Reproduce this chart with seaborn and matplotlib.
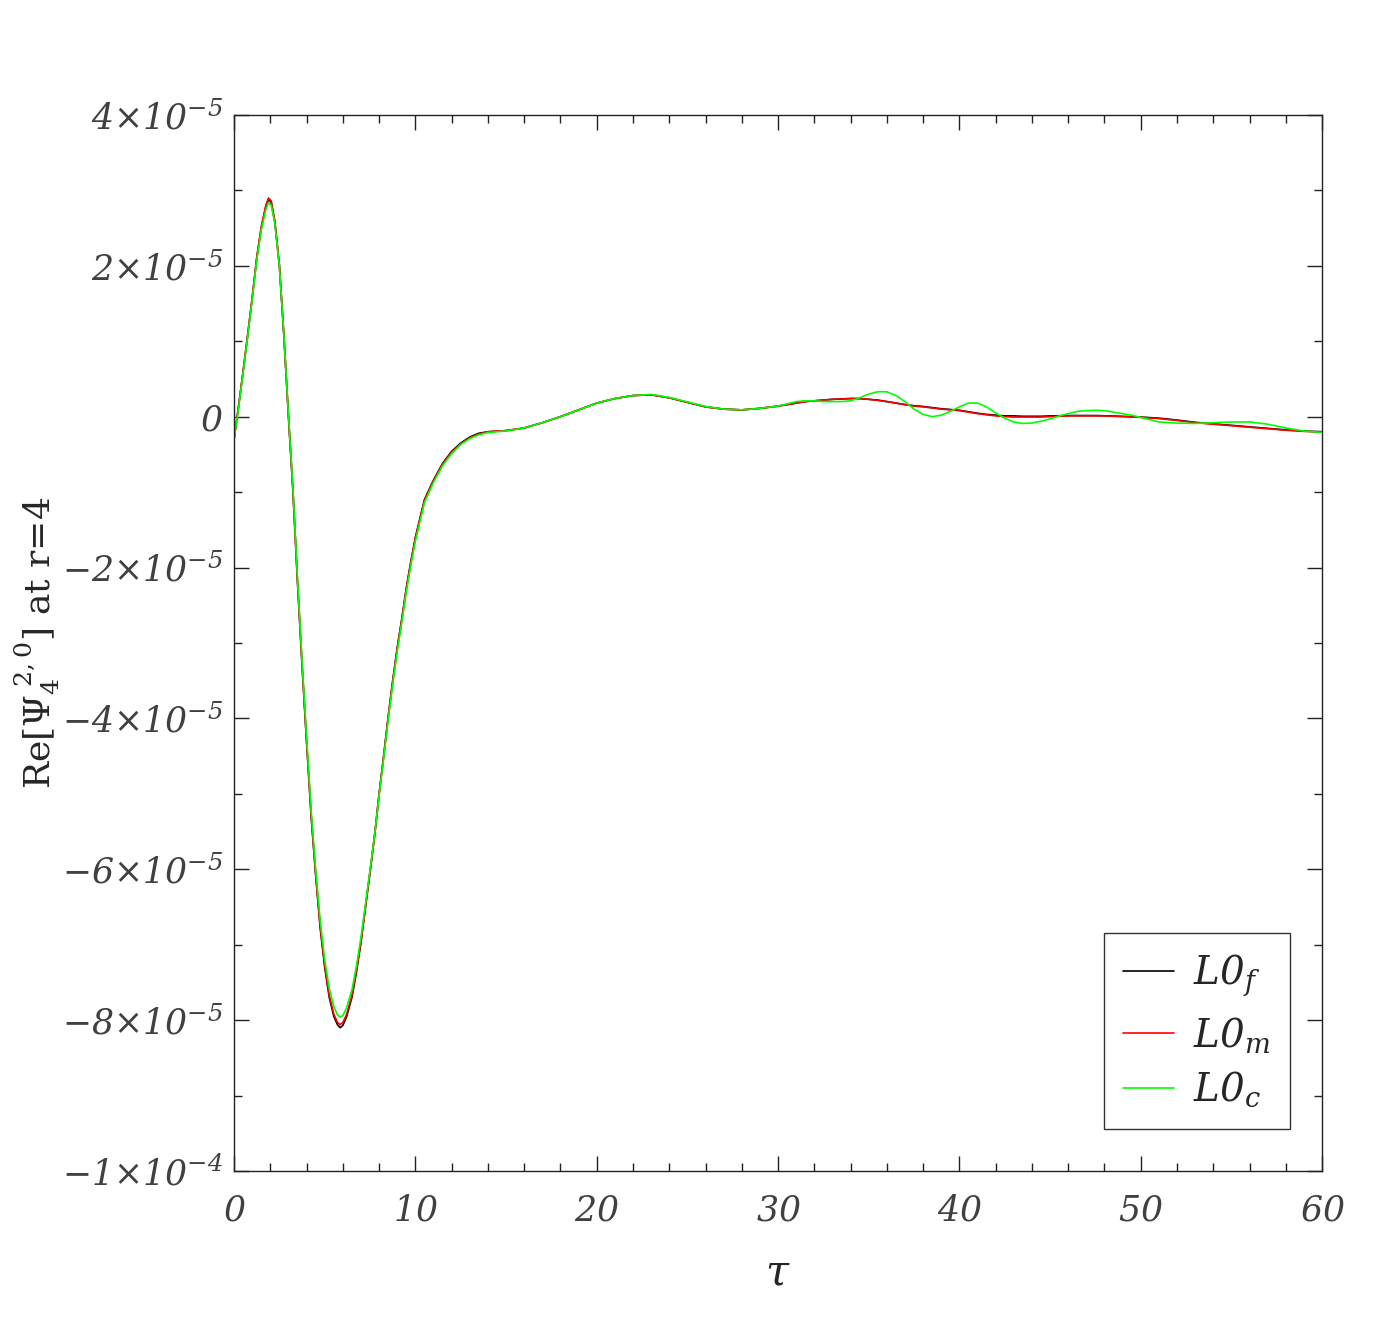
import matplotlib
matplotlib.use("Agg")
import matplotlib.pyplot as plt
from matplotlib.ticker import MultipleLocator, FuncFormatter
import seaborn as sns
import pandas as pd
import numpy as np

# tau grid (shared by all three runs)
tau = [0, 0.25, 0.5, 0.75, 1.0, 1.25, 1.5, 1.75, 1.9, 2.05, 2.25, 2.5, 2.75,
       3.0, 3.25, 3.5, 3.75, 4.0, 4.25, 4.5, 4.75, 5.0, 5.25, 5.5, 5.7, 5.85,
       6.0, 6.2, 6.5, 6.75, 7.0, 7.25, 7.5, 7.75, 8.0, 8.25, 8.5, 8.75, 9.0,
       9.25, 9.5, 9.75, 10.0, 10.5, 11.0, 11.5, 12.0, 12.5, 13.0, 13.5,
       14, 15, 16, 17, 18, 19, 20, 21, 22, 23, 24, 25, 26, 27, 28, 29,
       30, 30.5, 31, 31.5, 32, 32.5, 33, 33.5, 34, 34.5, 35, 35.5, 36, 36.5,
       37, 37.5, 38, 38.5, 39, 39.5, 40, 40.5, 41, 41.5, 42, 42.5, 43, 43.5,
       44, 44.5, 45, 45.5, 46, 46.5, 47, 47.5, 48, 48.5, 49, 49.5, 50,
       51, 52, 53, 54, 55, 56, 57, 58, 59, 60]

# values in units of 1e-5
L0f = [-0.30, 0.14, 0.60, 1.08, 1.57, 2.10, 2.50, 2.78, 2.88, 2.84, 2.58, 2.00, 1.06,
       0.00, -1.00, -2.20, -3.30, -4.32, -5.30, -6.08, -6.78, -7.30, -7.70, -7.95, -8.06, -8.10,
       -8.07, -7.96, -7.70, -7.36, -6.97, -6.50, -6.04, -5.56, -5.00, -4.50, -3.98, -3.50, -3.06,
       -2.68, -2.27, -1.92, -1.60, -1.10, -0.84, -0.62, -0.46, -0.35, -0.27, -0.22,
       -0.20, -0.185, -0.15, -0.08, 0.00, 0.09, 0.18, 0.24, 0.28, 0.29, 0.25, 0.19, 0.13, 0.10, 0.09, 0.11,
       0.14, 0.16, 0.18, 0.20, 0.21, 0.22, 0.23, 0.235, 0.24, 0.24, 0.23, 0.22, 0.20, 0.18,
       0.16, 0.145, 0.135, 0.12, 0.105, 0.095, 0.085, 0.065, 0.045, 0.03, 0.02, 0.01, 0.01, 0.005,
       0.005, 0.005, 0.01, 0.012, 0.015, 0.015, 0.015, 0.015, 0.012, 0.008, 0.004, 0.0, -0.005,
       -0.02, -0.045, -0.075, -0.095, -0.115, -0.135, -0.155, -0.175, -0.19, -0.20]

L0m = [-0.30, 0.14, 0.60, 1.08, 1.58, 2.11, 2.52, 2.80, 2.90, 2.86, 2.59, 2.01, 1.07,
       0.01, -0.99, -2.19, -3.28, -4.30, -5.27, -6.05, -6.75, -7.27, -7.67, -7.92, -8.03, -8.06,
       -8.03, -7.93, -7.67, -7.34, -6.95, -6.49, -6.03, -5.55, -5.00, -4.50, -3.98, -3.51, -3.07,
       -2.69, -2.28, -1.93, -1.61, -1.11, -0.85, -0.63, -0.47, -0.36, -0.28, -0.23,
       -0.20, -0.185, -0.15, -0.08, 0.00, 0.09, 0.18, 0.24, 0.28, 0.29, 0.25, 0.19, 0.13, 0.10, 0.09, 0.11,
       0.14, 0.16, 0.18, 0.20, 0.21, 0.22, 0.23, 0.235, 0.24, 0.24, 0.23, 0.215, 0.20, 0.18,
       0.16, 0.14, 0.13, 0.115, 0.10, 0.09, 0.08, 0.06, 0.04, 0.025, 0.01, 0.0, -0.005, -0.005,
       -0.005, -0.005, 0.0, 0.005, 0.01, 0.01, 0.01, 0.01, 0.01, 0.005, 0.0, -0.005, -0.01,
       -0.025, -0.05, -0.08, -0.10, -0.12, -0.14, -0.16, -0.18, -0.195, -0.205]

L0c = [-0.30, 0.12, 0.58, 1.06, 1.55, 2.07, 2.47, 2.74, 2.84, 2.80, 2.56, 1.99, 1.07,
       0.03, -0.96, -2.15, -3.24, -4.25, -5.22, -6.00, -6.68, -7.20, -7.58, -7.82, -7.93, -7.96,
       -7.94, -7.84, -7.60, -7.28, -6.90, -6.46, -6.01, -5.55, -5.02, -4.53, -4.02, -3.55, -3.11,
       -2.73, -2.32, -1.97, -1.65, -1.14, -0.87, -0.65, -0.49, -0.37, -0.29, -0.24,
       -0.21, -0.19, -0.15, -0.08, 0.00, 0.09, 0.18, 0.24, 0.28, 0.295, 0.255, 0.195, 0.135, 0.10, 0.09, 0.11,
       0.14, 0.17, 0.20, 0.21, 0.21, 0.20, 0.20, 0.20, 0.21, 0.25, 0.30, 0.33, 0.33, 0.28,
       0.20, 0.10, 0.03, 0.00, 0.02, 0.07, 0.13, 0.18, 0.18, 0.13, 0.05, -0.02, -0.07, -0.09,
       -0.085, -0.06, -0.03, 0.01, 0.04, 0.07, 0.08, 0.085, 0.08, 0.06, 0.04, 0.02, -0.01,
       -0.07, -0.085, -0.09, -0.08, -0.07, -0.07, -0.10, -0.15, -0.19, -0.21]

runs = ["L0f", "L0m", "L0c"]
run_labels = {"L0f": r"$L0_{f}$", "L0m": r"$L0_{m}$", "L0c": r"$L0_{c}$"}
run_colors = {"L0f": "#000000", "L0m": "#ff0000", "L0c": "#00ff00"}

frames = []
for name, vals in zip(runs, [L0f, L0m, L0c]):
    frames.append(pd.DataFrame({"tau": tau, "psi": np.array(vals) * 1e-5, "run": name}))
df = pd.concat(frames, ignore_index=True)

sns.set_style("ticks")
plt.rcParams["font.family"] = ["DejaVu Serif"]
# italic serif for every math text (tick labels, legend); axis labels override below
plt.rcParams["mathtext.fontset"] = "custom"
plt.rcParams["mathtext.rm"] = "DejaVu Serif:italic"
plt.rcParams["mathtext.it"] = "DejaVu Serif:italic"
plt.rcParams["mathtext.cal"] = "DejaVu Serif:italic"
plt.rcParams["mathtext.sf"] = "DejaVu Serif:italic"

fig = plt.figure(figsize=(13.94, 13.32), dpi=100)
ax = fig.add_axes([0.1679, 0.1209, 0.7805, 0.7928])

sns.lineplot(data=df, x="tau", y="psi", hue="run", hue_order=runs,
             palette=run_colors, linewidth=1.2, ax=ax, sort=False, estimator=None)

ax.set_xlim(0, 60)
ax.set_ylim(-1e-4, 4e-5)
ax.xaxis.set_major_locator(MultipleLocator(10))
ax.xaxis.set_minor_locator(MultipleLocator(2))
ax.yaxis.set_major_locator(MultipleLocator(2e-5))
ax.yaxis.set_minor_locator(MultipleLocator(1e-5))


def yfmt(v, pos):
    if abs(v) < 1e-12:
        return r"$0$"
    exp = int(np.floor(np.log10(abs(v)) + 1e-9))
    mant = int(round(v / 10 ** exp))
    return r"$%d{\times}10^{%d}$" % (mant, exp)


ax.yaxis.set_major_formatter(FuncFormatter(yfmt))
ax.xaxis.set_major_formatter(FuncFormatter(lambda v, p: r"$%d$" % round(v)))

ax.tick_params(which="both", direction="in", top=True, right=True, width=1.0, color="#222222")
ax.tick_params(which="major", length=11)
ax.tick_params(which="minor", length=6)
ax.tick_params(axis="x", which="major", labelsize=25, pad=16, labelcolor="#404040")
ax.tick_params(axis="y", which="major", labelsize=25, pad=8, labelcolor="#404040")
for s in ax.spines.values():
    s.set_linewidth(1.0)
    s.set_color("#222222")

xl = ax.set_xlabel(r"$\tau$", fontsize=30, labelpad=18)
xl.set_math_fontfamily("dejavuserif")
yl = ax.set_ylabel(r"Re[$\Psi_4^{\ 2,0}$] at r=4", fontsize=26)
yl.set_math_fontfamily("dejavuserif")
ax.yaxis.set_label_coords(-0.158, 0.5)

handles, labels = ax.get_legend_handles_labels()
leg = ax.legend(handles, [run_labels[l] for l in labels], loc="lower right",
                bbox_to_anchor=(0.9706, 0.0398), borderaxespad=0, fontsize=28,
                frameon=True, fancybox=False, edgecolor="black", handlelength=1.3,
                handletextpad=0.5, borderpad=0.5, labelspacing=0.4)
leg.get_frame().set_linewidth(1.0)

fig.savefig("out.png", dpi=100, facecolor="white")
